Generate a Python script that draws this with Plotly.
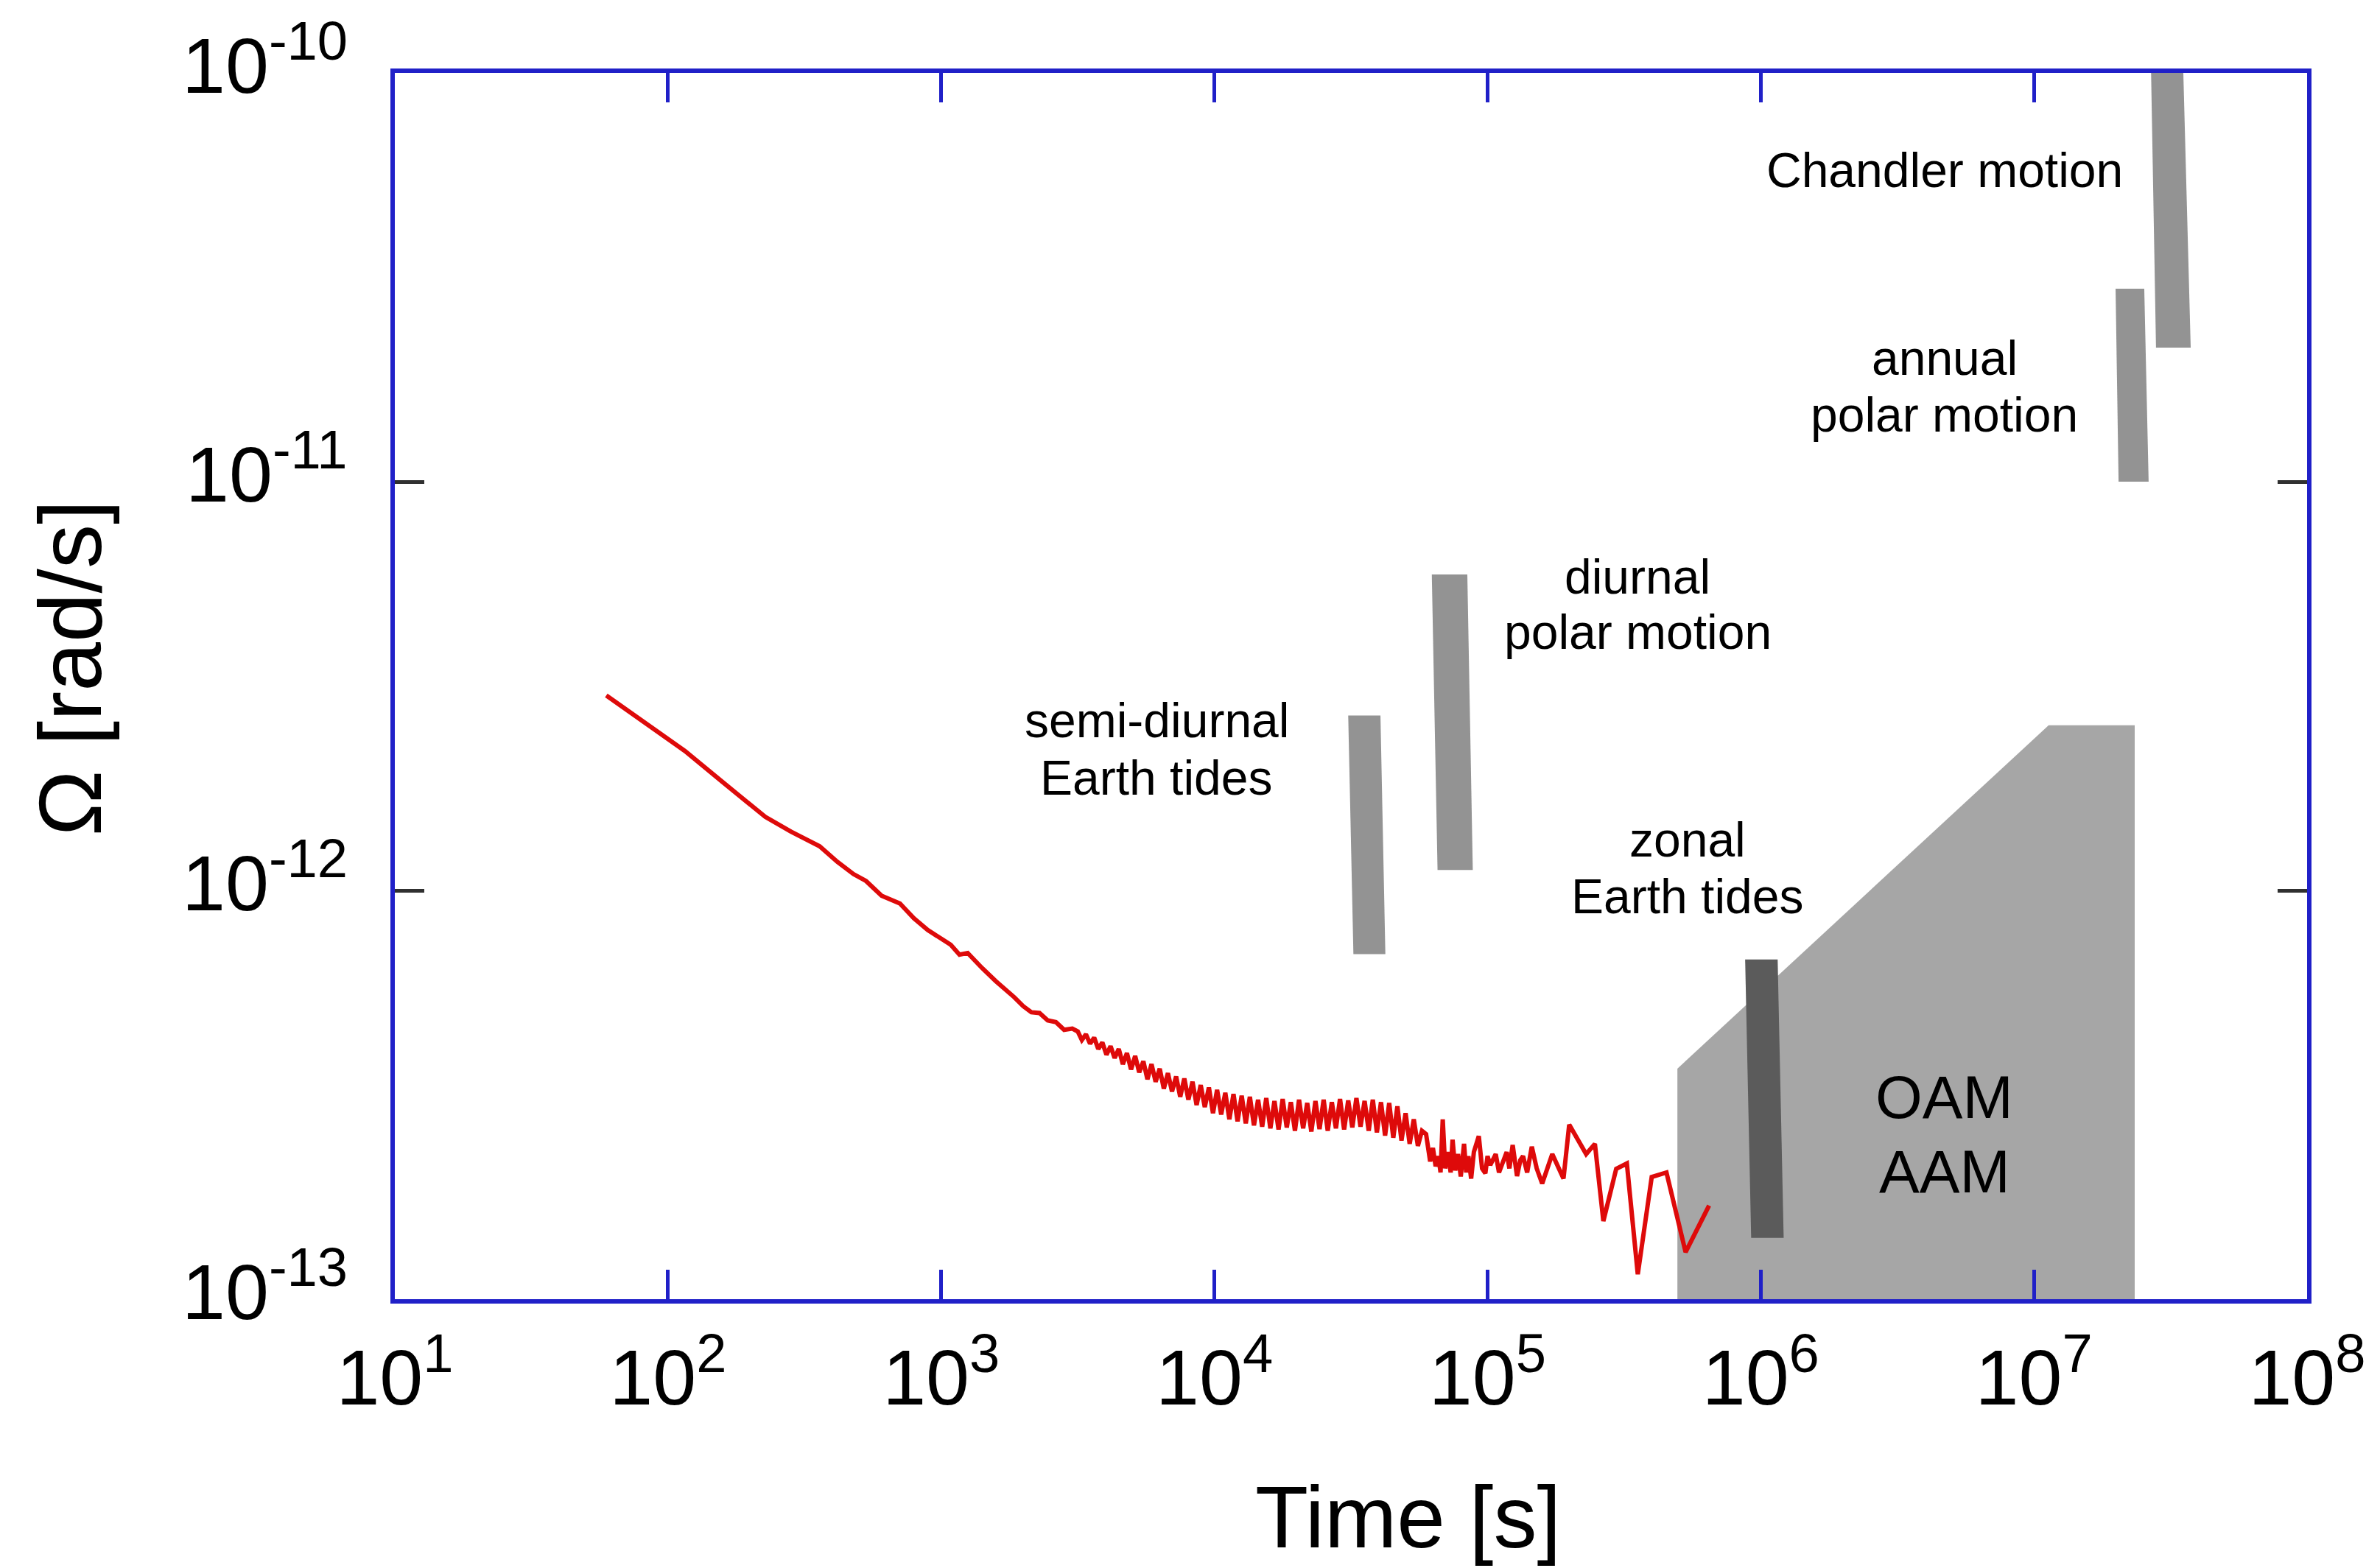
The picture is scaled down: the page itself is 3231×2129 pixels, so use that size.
import numpy as np
import plotly.graph_objects as go

# ---------------- data (log10 values) ----------------
log_time = [
    1.774, 1.90, 2.062, 2.20, 2.356, 2.45, 2.555, 2.62, 2.679, 2.725, 2.782, 2.849,
    2.90, 2.951, 3.00, 3.035, 3.067, 3.097, 3.15, 3.20, 3.267,
    3.30, 3.33, 3.36, 3.39, 3.42, 3.45, 3.48,
    3.500, 3.515, 3.530, 3.545, 3.560, 3.575, 3.590, 3.605, 3.620, 3.635, 3.650,
    3.665, 3.680, 3.695, 3.710, 3.725, 3.740, 3.755, 3.770, 3.785, 3.800, 3.815,
    3.830, 3.845, 3.860, 3.875, 3.890, 3.905, 3.920, 3.935, 3.950, 3.965, 3.980,
    3.995, 4.010, 4.025, 4.040, 4.055, 4.070, 4.085, 4.100, 4.115, 4.130, 4.145,
    4.160, 4.175, 4.190, 4.205, 4.220, 4.235, 4.250, 4.265, 4.280, 4.295, 4.310,
    4.325, 4.340, 4.355, 4.370, 4.385, 4.400, 4.415, 4.430, 4.445, 4.460, 4.475,
    4.490, 4.505, 4.520, 4.535, 4.550, 4.565, 4.580, 4.595, 4.610, 4.625, 4.640,
    4.655, 4.670, 4.685, 4.700, 4.715, 4.730, 4.745, 4.760, 4.775,
    4.790, 4.800, 4.810, 4.820, 4.828, 4.836, 4.845, 4.855, 4.865, 4.872, 4.882,
    4.892, 4.902, 4.914, 4.922, 4.930, 4.940, 4.950, 4.968, 4.980, 4.992, 5.000,
    5.010, 5.030, 5.042, 5.054, 5.070, 5.080, 5.092, 5.108, 5.120, 5.130, 5.145,
    5.162, 5.180, 5.200, 5.237, 5.278, 5.299, 5.361, 5.393, 5.424, 5.471,
    5.510, 5.550, 5.601, 5.655, 5.725, 5.811,
]
log_omega = [
    -11.523, -11.582, -11.659, -11.735, -11.820, -11.856, -11.892, -11.930, -11.960,
    -11.977, -12.013, -12.032, -12.068, -12.097, -12.118, -12.133, -12.157, -12.153,
    -12.190, -12.222, -12.261,
    -12.283, -12.298, -12.300, -12.318, -12.322, -12.341, -12.338,
    -12.345, -12.366, -12.352, -12.375, -12.360, -12.388, -12.372, -12.402, -12.381,
    -12.410, -12.388, -12.425, -12.398, -12.438, -12.405, -12.445, -12.418, -12.462,
    -12.425, -12.468, -12.436, -12.485, -12.447, -12.492, -12.455, -12.505, -12.460,
    -12.512, -12.468, -12.525, -12.476, -12.530, -12.482, -12.545, -12.488, -12.548,
    -12.495, -12.560, -12.498, -12.565, -12.502, -12.570, -12.505, -12.575, -12.512,
    -12.578, -12.508, -12.582, -12.515, -12.585, -12.510, -12.580, -12.518, -12.588,
    -12.512, -12.582, -12.520, -12.590, -12.515, -12.584, -12.512, -12.588, -12.518,
    -12.582, -12.510, -12.585, -12.514, -12.580, -12.508, -12.578, -12.515, -12.588,
    -12.512, -12.592, -12.518, -12.600, -12.520, -12.605, -12.528, -12.612, -12.545,
    -12.620, -12.560, -12.625, -12.588, -12.596,
    -12.663, -12.630, -12.675, -12.650, -12.690, -12.560, -12.680, -12.640, -12.690,
    -12.610, -12.685, -12.645, -12.700, -12.620, -12.690, -12.650, -12.705, -12.640,
    -12.601, -12.680, -12.692, -12.650, -12.672, -12.645, -12.690, -12.670, -12.640,
    -12.680, -12.623, -12.699, -12.660, -12.650, -12.690, -12.627, -12.680, -12.717,
    -12.645, -12.705, -12.573, -12.645, -12.620, -12.809, -12.681,
    -12.668, -12.939, -12.701, -12.690, -12.885, -12.771,
]

# slanted bands: (x top-left, x top-right, x bottom-right, x bottom-left) in log10 s,
# (top, bottom) in log10 rad/s
band_names = ["semi-diurnal", "diurnal", "zonal", "annual", "chandler"]
band_x = [
    [4.490, 4.608, 4.626, 4.509],
    [4.796, 4.926, 4.946, 4.817],
    [5.943, 6.062, 6.084, 5.965],
    [7.299, 7.404, 7.420, 7.310],
    [7.429, 7.547, 7.574, 7.447],
]
band_top = [-11.572, -11.227, -12.169, -10.528, -10.0]
band_bottom = [-12.156, -11.950, -12.850, -11.000, -10.672]
band_colors = ["#939393", "#939393", "#5b5b5b", "#939393", "#939393"]

# OAM / AAM region polygon (log10 values)
oam_x = [5.695, 5.695, 7.054, 7.369, 7.369]
oam_y = [-13.0, -12.436, -11.596, -11.596, -13.0]

# text labels: lines, x (log10 s), y (log10 rad/s) of each line centre
label_lines = ["Chandler motion", "annual", "polar motion", "diurnal", "polar motion",
               "semi-diurnal", "Earth tides", "zonal", "Earth tides"]
label_x = [6.672, 6.672, 6.672, 5.550, 5.550, 3.789, 3.789, 5.733, 5.733]
label_y = [-10.237, -10.698, -10.836, -11.233, -11.367, -11.583, -11.724, -11.876, -12.014]
oam_lines = ["OAM", "AAM"]
oam_label_y = [-12.506, -12.688]

x_tickvals = [1e1, 1e2, 1e3, 1e4, 1e5, 1e6, 1e7, 1e8]
x_ticktext = ["10<sup>%d</sup>" % k for k in range(1, 9)]
y_tickvals = [1e-13, 1e-12, 1e-11, 1e-10]
y_ticktext = ["10<sup>-13</sup>", "10<sup>-12</sup>", "10<sup>-11</sup>", "10<sup>-10</sup>"]

# ---------------- figure ----------------
FONT = "Liberation Sans, Arial, Helvetica, sans-serif"
BLUE = "rgb(32,32,200)"
TICK_SIZE = 106

fig = go.Figure()

fig.add_trace(go.Scatter(
    x=[10 ** v for v in oam_x], y=[10 ** v for v in oam_y],
    fill="toself", fillcolor="#a6a6a6", line=dict(width=0, color="#a6a6a6"),
    mode="lines", hoverinfo="skip", showlegend=False))

for name, bx, yt, yb, col in zip(band_names, band_x, band_top, band_bottom, band_colors):
    ys = [yt, yt, yb, yb]
    fig.add_trace(go.Scatter(
        x=[10 ** v for v in bx] + [10 ** bx[0]], y=[10 ** v for v in ys] + [10 ** ys[0]],
        fill="toself", fillcolor=col, line=dict(width=0, color=col),
        mode="lines", name=name, hoverinfo="skip", showlegend=False))

fig.add_trace(go.Scatter(
    x=[10 ** v for v in log_time], y=[10 ** v for v in log_omega],
    mode="lines", line=dict(color="rgb(222,10,10)", width=6),
    showlegend=False))

annotations = []
for t, x, y in zip(label_lines, label_x, label_y):
    annotations.append(dict(x=x, y=y, xref="x", yref="y", text=t, showarrow=False,
                            font=dict(family=FONT, size=66, color="black"),
                            xanchor="center", yanchor="middle"))
for t, y in zip(oam_lines, oam_label_y):
    annotations.append(dict(x=6.672, y=y, xref="x", yref="y", text=t, showarrow=False,
                            font=dict(family=FONT, size=82, color="black"),
                            xanchor="center", yanchor="middle"))
# y tick labels (drawn slightly above their ticks, as in the reference)
for v, t in zip(y_tickvals, y_ticktext):
    annotations.append(dict(x=0, y=np.log10(v), xref="paper", yref="y", text=t,
                            showarrow=False, xanchor="right", yanchor="middle",
                            xshift=-62, yshift=18,
                            font=dict(family=FONT, size=TICK_SIZE, color="black")))
annotations.append(dict(x=0.530, y=-0.178, xref="paper", yref="paper", text="Time [s]",
                        showarrow=False, font=dict(family=FONT, size=118, color="black"),
                        xanchor="center", yanchor="middle"))
annotations.append(dict(x=-0.170, y=0.515, xref="paper", yref="paper", text="Ω [rad/s]",
                        textangle=-90, showarrow=False,
                        font=dict(family=FONT, size=120, color="black"),
                        xanchor="center", yanchor="middle"))

fig.update_layout(
    width=3231, height=2129,
    margin=dict(l=536, r=99, t=99, b=365),
    plot_bgcolor="white", paper_bgcolor="white",
    font=dict(family=FONT, color="black"),
    annotations=annotations,
    xaxis=dict(type="log", range=[1, 8], showgrid=False, zeroline=False,
               tickvals=x_tickvals, ticktext=x_ticktext,
               ticks="inside", ticklen=40, tickwidth=5, tickcolor=BLUE,
               showline=True, linecolor=BLUE, linewidth=6, mirror="ticks",
               tickfont=dict(family=FONT, size=TICK_SIZE, color="black"),
               ticklabelstandoff=10),
    yaxis=dict(type="log", range=[-13, -10], showgrid=False, zeroline=False,
               tickvals=y_tickvals, ticktext=y_ticktext, showticklabels=False,
               ticks="inside", ticklen=40, tickwidth=5, tickcolor="#303030",
               showline=True, linecolor=BLUE, linewidth=6, mirror="ticks"),
)

fig.write_html("out.html")
